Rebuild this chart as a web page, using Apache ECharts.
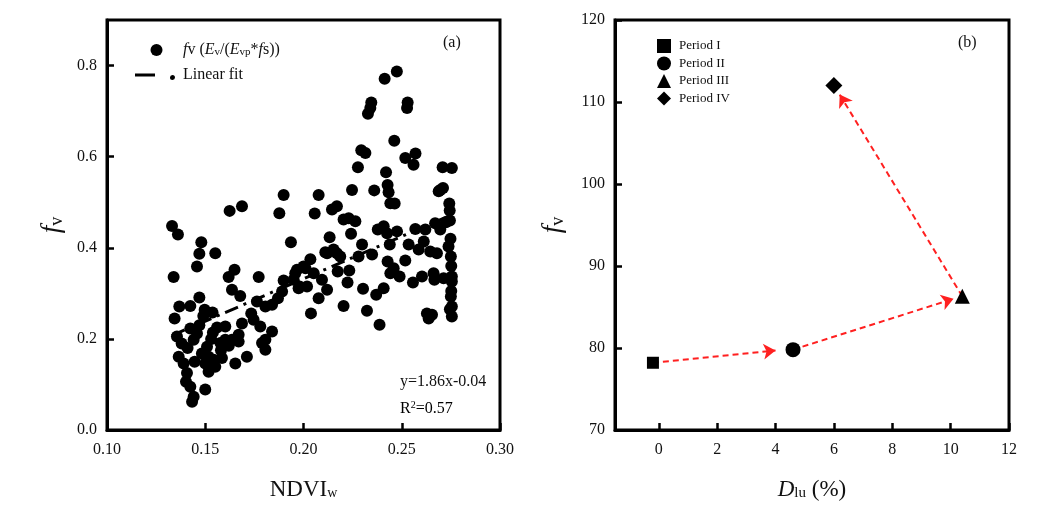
<html lang="en">
  <head>
    <meta charset="UTF-8" />
    <title>fv charts</title>
    <style>
      body { margin: 0; background: #fff; }
    </style>
  </head>
  <body>
    <div id="main" style="width: 1049px; height: 520px"></div>

    <script src="https://cdn.jsdelivr.net/npm/echarts@6/dist/echarts.min.js"></script>
    <script>
      // (a) NDVIw vs fv scatter
      let ndviW = [
        0.2475, 0.2413, 0.2345, 0.234, 0.2328, 0.253, 0.2527, 0.2462, 0.2294, 0.2315,
        0.257, 0.2518, 0.256, 0.2708, 0.2755, 0.2277, 0.242, 0.2428, 0.2433, 0.2442,
        0.2464, 0.2247, 0.236, 0.2696, 0.271, 0.2688, 0.2742, 0.2744, 0.2077, 0.2057,
        0.2145, 0.217, 0.2204, 0.223, 0.2264, 0.2133, 0.2242, 0.2378, 0.2408, 0.2425,
        0.2476, 0.2569, 0.262, 0.267, 0.2725, 0.2696, 0.2298, 0.2349, 0.228, 0.2439,
        0.2535, 0.2612, 0.2586, 0.2645, 0.2679, 0.2738, 0.275, 0.2111, 0.2153, 0.2187,
        0.2035, 0.2428, 0.2518, 0.2459, 0.2442, 0.2489, 0.2233, 0.2174, 0.201, 0.2052,
        0.2094, 0.212, 0.2018, 0.2077, 0.2224, 0.2303, 0.2408, 0.237, 0.2557, 0.2603,
        0.2662, 0.2666, 0.2713, 0.2755, 0.2755, 0.275, 0.2755, 0.2755, 0.2628, 0.2654,
        0.2637, 0.2204, 0.2323, 0.2387, 0.2038, 0.212, 0.217, 0.1967, 0.2, 0.195,
        0.198, 0.1624, 0.1687, 0.1877, 0.1331, 0.1361, 0.148, 0.147, 0.1551, 0.1458,
        0.1936, 0.1339, 0.1649, 0.1619, 0.1772, 0.1899, 0.1958, 0.1636, 0.1678, 0.147,
        0.1368, 0.1424, 0.1344, 0.1497, 0.1537, 0.187, 0.1891, 0.184, 0.1806, 0.1763,
        0.1975, 0.1734, 0.1746, 0.178, 0.1687, 0.1602, 0.167, 0.1636, 0.1539, 0.1424,
        0.1458, 0.1356, 0.184, 0.1806, 0.1789, 0.1806, 0.1577, 0.1509, 0.1441, 0.1517,
        0.1543, 0.1585, 0.1551, 0.1517, 0.1446, 0.1365, 0.139, 0.1407, 0.1402, 0.1424,
        0.1441, 0.1433, 0.15, 0.1653, 0.1712, 0.167, 0.1602, 0.1483, 0.15, 0.1899,
        0.141, 0.147, 0.153, 0.158, 0.162, 0.156, 0.149, 0.138, 0.2752, 0.2748,
        0.2752, 0.2745, 0.2745
      ]
      let fvA = [
        0.787, 0.771, 0.719, 0.707, 0.694, 0.719, 0.707, 0.635, 0.614, 0.608,
        0.607, 0.597, 0.582, 0.577, 0.575, 0.577, 0.566, 0.538, 0.522, 0.498,
        0.497, 0.527, 0.526, 0.527, 0.531, 0.524, 0.497, 0.482, 0.516, 0.475,
        0.484, 0.491, 0.462, 0.465, 0.458, 0.423, 0.431, 0.44, 0.447, 0.432,
        0.436, 0.441, 0.44, 0.454, 0.456, 0.44, 0.407, 0.385, 0.381, 0.407,
        0.407, 0.414, 0.396, 0.392, 0.388, 0.403, 0.381, 0.39, 0.396, 0.381,
        0.375, 0.37, 0.372, 0.355, 0.344, 0.337, 0.35, 0.348, 0.355, 0.344,
        0.33, 0.308, 0.315, 0.289, 0.324, 0.31, 0.311, 0.297, 0.324, 0.337,
        0.344, 0.33, 0.333, 0.337, 0.326, 0.293, 0.271, 0.249, 0.256, 0.253,
        0.245, 0.272, 0.262, 0.231, 0.256, 0.388, 0.388, 0.352, 0.359, 0.33,
        0.315, 0.481, 0.491, 0.476, 0.448, 0.429, 0.412, 0.387, 0.388, 0.359,
        0.412, 0.336, 0.352, 0.336, 0.336, 0.328, 0.344, 0.308, 0.294, 0.291,
        0.271, 0.272, 0.245, 0.264, 0.258, 0.289, 0.304, 0.275, 0.271, 0.282,
        0.311, 0.256, 0.242, 0.227, 0.234, 0.227, 0.209, 0.198, 0.214, 0.223,
        0.212, 0.205, 0.216, 0.198, 0.191, 0.176, 0.191, 0.183, 0.198, 0.161,
        0.154, 0.158, 0.139, 0.128, 0.15, 0.161, 0.146, 0.125, 0.106, 0.095,
        0.073, 0.062, 0.089, 0.146, 0.161, 0.194, 0.198, 0.168, 0.146, 0.516,
        0.18, 0.23, 0.2, 0.175, 0.185, 0.225, 0.25, 0.19, 0.36, 0.42,
        0.305, 0.265, 0.46
      ]
      // linear fit y = 1.86x - 0.04
      let fitSlope = 1.86
      let fitIntercept = -0.04
      let fitRange = [0.133, 0.276]

      // (b) Dlu vs fv by period
      let periods = ['Period I', 'Period II', 'Period III', 'Period IV']
      let periodSymbols = ['rect', 'circle', 'triangle', 'diamond']
      let dlu = [-0.2, 4.6, 10.4, 6.0]
      let fvB = [78.2, 79.8, 86.3, 112.0]
      // arrows: start point -> arrow tip
      let arrowFrom = [[-0.2, 78.2], [4.6, 79.8], [10.4, 86.3]]
      let arrowTo = [[4.0, 79.7], [10.1, 86.0], [6.2, 110.9]]

      let serif = 'Liberation Serif'
      let txt = '#111'

      let myChart = echarts.init(document.getElementById('main'))

      let scatterData = ndviW.map((x, i) => [x, fvA[i]])
      let fitData = fitRange.map(x => [x, fitSlope * x + fitIntercept])

      let periodSeries = periods.map((name, i) => ({
        name: name,
        type: 'scatter',
        xAxisIndex: 1,
        yAxisIndex: 1,
        symbol: periodSymbols[i],
        symbolSize: i === 0 ? 12 : (i === 3 ? 17 : 15),
        itemStyle: { color: '#000', opacity: 1 },
        data: [[dlu[i], fvB[i]]],
        z: 5
      }))

      let axisCommon = {
        axisLine: { onZero: false, lineStyle: { color: '#000', width: 3 } },
        axisTick: { inside: true, length: 7, lineStyle: { color: '#000', width: 2.5 } },
        axisLabel: { color: txt, fontFamily: serif, fontSize: 16 },
        splitLine: { show: false },
        nameLocation: 'middle'
      }

      let fvName = {
        rich: {
          i: { fontFamily: serif, fontSize: 27, fontStyle: 'italic', color: txt },
          s: { fontFamily: serif, fontSize: 18, color: txt, padding: [10, 0, 0, 0] }
        }
      }

      let option = {
        animation: false,
        backgroundColor: '#fff',
        grid: [
          { left: 107, right: 549, top: 20, bottom: 90, show: true, borderColor: '#000', borderWidth: 3 },
          { left: 615, right: 40, top: 20, bottom: 90, show: true, borderColor: '#000', borderWidth: 3 }
        ],
        xAxis: [
          Object.assign({}, axisCommon, {
            type: 'value', gridIndex: 0, min: 0.1, max: 0.3, interval: 0.05,
            axisLabel: Object.assign({}, axisCommon.axisLabel, { margin: 12, formatter: v => v.toFixed(2) }),
            name: '{n|NDVI}{s|w}', nameGap: 48,
            nameTextStyle: {
              rich: {
                n: { fontFamily: serif, fontSize: 23, color: txt },
                s: { fontFamily: serif, fontSize: 14, color: txt, padding: [8, 0, 0, 0] }
              }
            }
          }),
          Object.assign({}, axisCommon, {
            type: 'value', gridIndex: 1, min: -1.5, max: 12, splitNumber: 7,
            axisLabel: Object.assign({}, axisCommon.axisLabel, {
              margin: 12, showMinLabel: false,
              formatter: v => (Math.abs(v % 2) < 1e-9 ? String(v) : '')
            }),
            name: '{i|D}{s|lu}{n| (%)}', nameGap: 48,
            nameTextStyle: {
              rich: {
                i: { fontFamily: serif, fontSize: 23, fontStyle: 'italic', color: txt },
                n: { fontFamily: serif, fontSize: 23, color: txt },
                s: { fontFamily: serif, fontSize: 15, color: txt, padding: [7, 0, 0, 0] }
              }
            }
          })
        ],
        yAxis: [
          Object.assign({}, axisCommon, {
            type: 'value', gridIndex: 0, min: 0, max: 0.9, interval: 0.2,
            axisLabel: Object.assign({}, axisCommon.axisLabel, { margin: 10, showMaxLabel: false, formatter: v => v.toFixed(1) }),
            name: '{i|f}{s|v}', nameGap: 41,
            nameTextStyle: fvName
          }),
          Object.assign({}, axisCommon, {
            type: 'value', gridIndex: 1, min: 70, max: 120, interval: 10,
            axisLabel: Object.assign({}, axisCommon.axisLabel, { margin: 10 }),
            name: '{i|f}{s|v}', nameGap: 48,
            nameTextStyle: fvName
          })
        ],
        legend: [
          {
            data: [
              { name: 'fvA', icon: 'circle' },
              { name: 'Linear fit', icon: 'path://M0 0 M43 12 M0 4.5 L20 4.5 L20 7.5 L0 7.5 Z M37.5 6 A2.5 2.5 0 1 1 37.49 6 Z' }
            ],
            orient: 'vertical', left: 130, top: 37, itemGap: 9,
            itemWidth: 43, itemHeight: 12,
            textStyle: {
              fontFamily: serif, fontSize: 16, color: txt,
              rich: {
                i: { fontFamily: serif, fontSize: 16, fontStyle: 'italic', color: txt },
                n: { fontFamily: serif, fontSize: 16, color: txt },
                s: { fontFamily: serif, fontSize: 11, color: txt, padding: [4, 0, 0, 0] }
              }
            },
            formatter: name => name === 'fvA'
              ? '{i|f}{n|v (}{i|E}{s|v}{n|/(}{i|E}{s|vp}{n|*}{i|f}{n|s))}'
              : name
          },
          {
            data: periods,
            orient: 'vertical', left: 652, top: 34, itemGap: 3.5,
            itemWidth: 14, itemHeight: 14,
            textStyle: { fontFamily: serif, fontSize: 13, color: txt, padding: [0, 0, 0, 3] }
          }
        ],
        graphic: [
          { type: 'text', left: 443, top: 35, style: { text: '(a)', font: '16px "Liberation Serif"', fill: txt } },
          { type: 'text', left: 958, top: 35, style: { text: '(b)', font: '16px "Liberation Serif"', fill: txt } },
          { type: 'text', left: 400, top: 374, style: { text: 'y=1.86x-0.04', font: '16px "Liberation Serif"', fill: txt } },
          {
            type: 'text', left: 400, top: 400,
            style: {
              text: '{n|R}{p|2}{n|=0.57}',
              rich: {
                n: { fontFamily: serif, fontSize: 16, color: txt },
                p: { fontFamily: serif, fontSize: 10, color: txt, padding: [0, 0, 8, 0] }
              }
            }
          }
        ],
        series: [
          {
            name: 'fvA',
            type: 'scatter',
            xAxisIndex: 0,
            yAxisIndex: 0,
            symbol: 'circle',
            symbolSize: 12,
            itemStyle: { color: '#000', opacity: 1 },
            data: scatterData
          },
          {
            name: 'Linear fit',
            type: 'line',
            xAxisIndex: 0,
            yAxisIndex: 0,
            symbol: 'none',
            lineStyle: { color: '#000', width: 3, type: [14, 6, 3, 6] },
            itemStyle: { color: '#000' },
            data: fitData,
            z: 3
          },
          {
            name: 'arrows',
            type: 'lines',
            coordinateSystem: 'cartesian2d',
            xAxisIndex: 1,
            yAxisIndex: 1,
            symbol: ['none', 'arrow'],
            symbolSize: 12,
            lineStyle: { color: '#ff2020', width: 2, type: [6, 4], opacity: 1 },
            data: arrowFrom.map((p, i) => ({ coords: [p, arrowTo[i]] })),
            z: 4
          }
        ].concat(periodSeries)
      }
      myChart.setOption(option)
    </script>
  </body>
</html>
